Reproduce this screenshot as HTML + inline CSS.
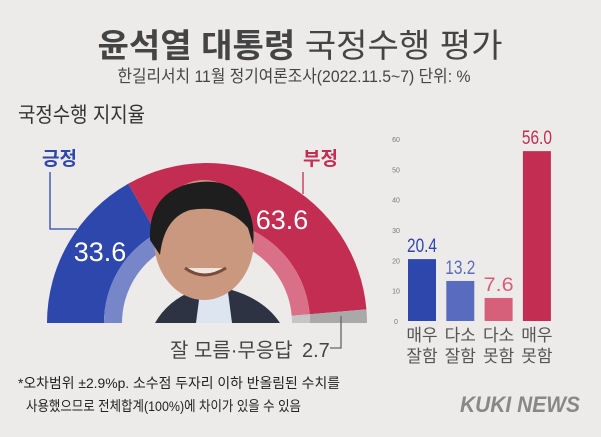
<!DOCTYPE html>
<html><head><meta charset="utf-8"><style>
body{margin:0;background:#ecebe9;}
svg{display:block;font-family:"Liberation Sans","Noto Sans CJK KR",sans-serif;}
</style></head><body>
<svg id="c" width="601" height="437" viewBox="0 0 601 437">
<rect width="601" height="437" fill="#ecebe9"/>
<text x="300" y="57" text-anchor="middle" font-size="33" fill="#444" textLength="405" lengthAdjust="spacingAndGlyphs"><tspan font-weight="bold">윤석열 대통령</tspan> 국정수행 평가</text>
<text x="294" y="82" text-anchor="middle" font-size="17" fill="#444" textLength="353" lengthAdjust="spacingAndGlyphs">한길리서치 11월 정기여론조사(2022.11.5~7) 단위: %</text>
<text x="18" y="122" font-size="21" fill="#333" textLength="127" lengthAdjust="spacingAndGlyphs">국정수행 지지율</text>
<g id="donut"></g>
<g id="bars"></g>
<text x="18" y="388" font-size="14" fill="#222" textLength="322" lengthAdjust="spacingAndGlyphs">*오차범위 ±2.9%p. 소수점 두자리 이하 반올림된 수치를</text>
<text x="26" y="411" font-size="14" fill="#222" textLength="275" lengthAdjust="spacingAndGlyphs">사용했으므로 전체합계(100%)에 차이가 있을 수 있음</text>
<text x="580" y="412" text-anchor="end" font-size="22" font-weight="bold" font-style="italic" fill="#888" textLength="120" lengthAdjust="spacingAndGlyphs">KUKI NEWS</text>
</svg>
<script>
const pieLabels=["긍정","부정","잘 모름·무응답"];
const pieValues=[33.6,63.6,2.7];
const pieColors=["#2e47ad","#c42d52","#a9a9a9"];
const pieInner=["#7786c8","#da7087","#c5c5c5"];
const barCats=[["매우","잘함"],["다소","잘함"],["다소","못함"],["매우","못함"]];
const barValues=[20.4,13.2,7.6,56.0];
const barColors=["#2e47ad","#586bbe","#d6607a","#c42d52"];
const barTicks=[0,10,20,30,40,50,60];
const NS="http://www.w3.org/2000/svg";
function mk(p,t,a){const e=document.createElementNS(NS,t);for(const k in a)e.setAttribute(k,a[k]);p.appendChild(e);return e;}
const cx=207,cy=323,R=160,r1=103,r0=85;
const total=pieValues.reduce((a,b)=>a+b,0);
function pt(r,a){return [cx-r*Math.cos(a),cy-r*Math.sin(a)];}
function arc(ro,ri,a0,a1){const p1=pt(ro,a0),p2=pt(ro,a1),p3=pt(ri,a1),p4=pt(ri,a0);
return `M${p1}L${p1}A${ro},${ro} 0 0 1 ${p2}L${p3}A${ri},${ri} 0 0 0 ${p4}Z`;}
const dg=document.getElementById('donut');
let acc=0;
pieValues.forEach((v,i)=>{const a0=acc/total*Math.PI,a1=(acc+v)/total*Math.PI;acc+=v;
const e=mk(dg,'path',{d:arc(R,r1,a0,a1),fill:pieColors[i]});


const f=mk(dg,'path',{d:arc(r1,r0,a0,a1),fill:pieInner[i]});


});
// portrait
const ph=mk(dg,'g',{});


mk(ph,'path',{d:"M155,323 Q168,300 195,290 L232,290 Q265,300 280,323 Z",fill:"#2d3342"});
mk(ph,'path',{d:"M196,323 L200,292 L228,292 L232,323 Z",fill:"#dde6f0"});
mk(ph,'ellipse',{cx:204,cy:240,rx:50,ry:60,fill:"#c9987e"});
mk(ph,'path',{d:"M150,240 Q148,195 188,184 Q228,175 244,200 Q256,222 253,245 L248,228 Q228,204 190,210 Q164,218 160,255 Z",fill:"#1e1e1e"});
mk(ph,'path',{d:"M185,268 Q204,282 226,268",stroke:"#7a4a3a","stroke-width":3,fill:"#efe6dd"});
// labels
const lab=[["긍정",42,165,pieColors[0]],["부정",303,165,pieColors[1]]];
lab.forEach((l,i)=>{const t=mk(dg,'text',{x:l[1],y:l[2],'font-size':19,fill:l[3],'font-weight':'bold'});t.textContent=l[0];

});
mk(dg,'path',{d:"M50,172 V229 H77",stroke:pieColors[0],fill:"none","stroke-width":1.3});
mk(dg,'path',{d:"M303,172 V194",stroke:pieColors[1],fill:"none","stroke-width":1.3});
mk(dg,'path',{d:"M341,316 V348 H330",stroke:"#666",fill:"none","stroke-width":1.3});
const vt=[[pieValues[0].toFixed(1),100,261,"#fff",27],[pieValues[1].toFixed(1),282,229,"#fff",27]];
vt.forEach((v,i)=>{const t=mk(dg,'text',{x:v[1],y:v[2],'text-anchor':'middle','font-size':v[4],fill:v[3]});t.textContent=v[0];

});
const u=mk(dg,'text',{x:170,y:357,'font-size':20,fill:"#444"});u.textContent=pieLabels[2];


const u2=mk(dg,'text',{x:302,y:357,'font-size':20,fill:"#444"});u2.textContent=pieValues[2].toFixed(1);


// bars
const bg=document.getElementById('bars');
const y0=321,ppu=(321-139)/60;
const ys=v=>y0-v*ppu;
barTicks.forEach(t=>{const e=mk(bg,'text',{x:396,y:ys(t)+3,'text-anchor':'middle','font-size':7,fill:"#777"});e.textContent=t;

});
barValues.forEach((v,i)=>{const x=408+i*38.3;
const b=mk(bg,'rect',{x:x,y:ys(v),width:28,height:y0-ys(v),fill:barColors[i]});


const t=mk(bg,'text',{x:x+14,y:ys(v)-7,'text-anchor':'middle','font-size':19,fill:barColors[i],textLength:30,lengthAdjust:'spacingAndGlyphs'});t.textContent=v.toFixed(1);


barCats[i].forEach((c,j)=>{const l=mk(bg,'text',{x:x+14,y:341+j*21,'text-anchor':'middle','font-size':17,fill:"#555"});l.textContent=c;

});
});
</script>
</body></html>
